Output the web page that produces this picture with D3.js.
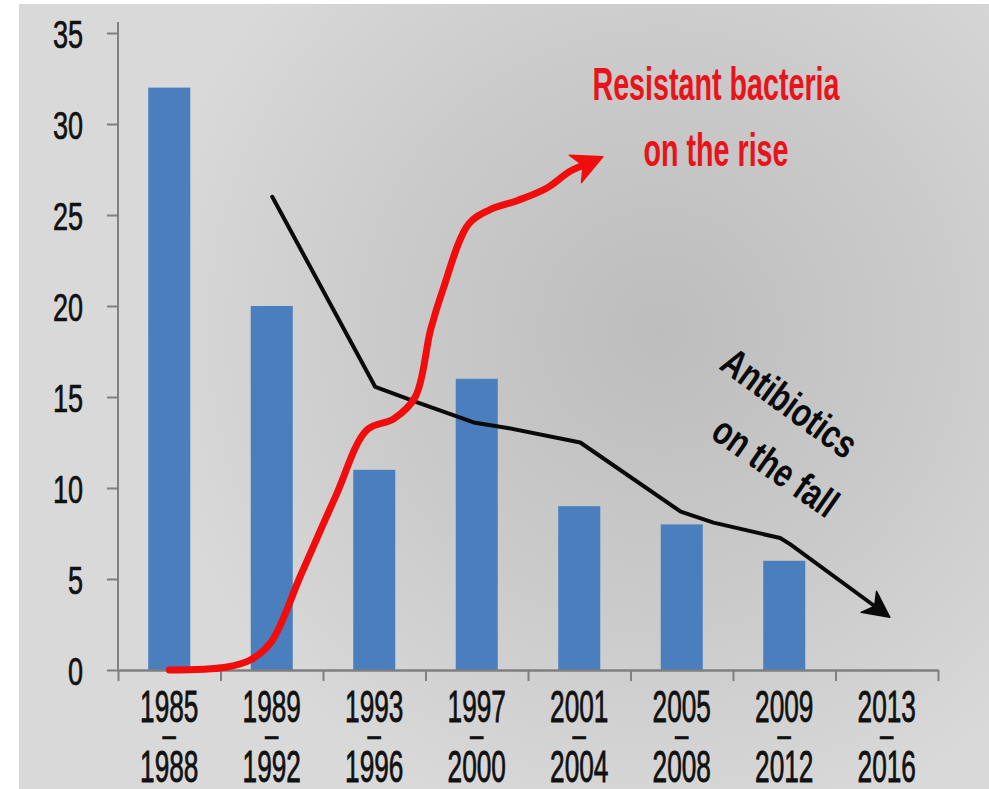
<!DOCTYPE html>
<html>
<head>
<meta charset="utf-8">
<script src="https://cdn.jsdelivr.net/npm/d3@7/dist/d3.min.js"></script>
<style>
  html, body { margin: 0; padding: 0; background: #ffffff; }
  svg { display: block; }
  text { font-family: "Liberation Sans", Arial, sans-serif; }
</style>
</head>
<body>
<script>
// Four-year periods on the x axis
const periodStart = ["1985", "1989", "1993", "1997", "2001", "2005", "2009", "2013"];
const periodEnd   = ["1988", "1992", "1996", "2000", "2004", "2008", "2012", "2016"];
// New antibiotics approved per period (bars)
const approvals = [32, 20, 11, 16, 9, 8, 6, 0];
// Resistant-bacteria trend: position in periods (0 = first period centre) and level
const resistantPos = [0, 0.55, 0.79, 0.99, 1.29, 1.62, 1.93, 2.19, 2.40, 2.55, 2.67, 2.92, 3.13, 3.40, 3.69, 3.91, 4.23];
const resistantVal = [0, 0.15, 0.55, 1.5, 5.3, 9.5, 13.2, 13.8, 15.0, 18.7, 20.9, 24.5, 25.3, 25.8, 26.5, 27.4, 28.2];
// Antibiotic-development trend
const antibioticPos = [1.005, 2.01, 2.42, 2.97, 3.30, 4.01, 4.99, 5.31, 5.96, 6.06, 7.03];
const antibioticVal = [26.0, 15.55, 14.7, 13.6, 13.3, 12.5, 8.7, 8.1, 7.25, 6.9, 2.9];
const yTicks = [0, 5, 10, 15, 20, 25, 30, 35];

const W = 989, H = 789;
const svg = d3.select("body").append("svg").attr("width", W).attr("height", H);

// Background panel with soft radial shading
const defs = svg.append("defs");
const grad = defs.append("radialGradient").attr("id", "bg")
  .attr("gradientUnits", "userSpaceOnUse")
  .attr("cx", 660).attr("cy", 330).attr("r", 520);
grad.append("stop").attr("offset", "0%").attr("stop-color", "#bdbdbd");
grad.append("stop").attr("offset", "55%").attr("stop-color", "#cbcbcb");
grad.append("stop").attr("offset", "100%").attr("stop-color", "#d9d9d9");
svg.append("rect").attr("x", 19).attr("y", 4).attr("width", W - 19).attr("height", H - 4)
  .attr("fill", "url(#bg)");

const left = 118, right = 938, y0px = 670, y35px = 33;
const x = d3.scaleBand().domain(periodStart).range([left, right])
  .paddingInner(0.59).paddingOuter(0.295);
const xEdge = d3.scaleLinear().domain([0, periodStart.length]).range([left, right]);
const xPos = d3.scaleLinear().domain([0, 7])
  .range([x(periodStart[0]) + x.bandwidth() / 2, x(periodStart[7]) + x.bandwidth() / 2]);
const y = d3.scaleLinear().domain([0, 35]).range([y0px, y35px]);

const axisColor = "#7f7f7f";
const ink = "#111111";
const sx = 0.82; // narrow glyph width

// Bars
svg.append("g").selectAll("rect").data(approvals).join("rect")
  .attr("x", (d, i) => x(periodStart[i]))
  .attr("y", d => y(d))
  .attr("width", x.bandwidth())
  .attr("height", d => y(0) - y(d))
  .attr("fill", "#4a7ebd");

// Y axis
const yAxis = svg.append("g").attr("transform", `translate(${left},0)`)
  .call(d3.axisLeft(y).tickValues(yTicks).tickSizeInner(11).tickSizeOuter(0));
yAxis.select(".domain").remove();
yAxis.append("line").attr("x1", 0).attr("x2", 0).attr("y1", y(0)).attr("y2", y(35) - 11)
  .attr("stroke", axisColor).attr("stroke-width", 2);
yAxis.selectAll(".tick line").attr("stroke", axisColor).attr("stroke-width", 2);
yAxis.selectAll(".tick text")
  .attr("font-family", "Liberation Sans, Arial, sans-serif")
  .attr("font-size", 33).attr("fill", ink)
  .attr("stroke", ink).attr("stroke-width", 0.6)
  .attr("x", -35 / sx)
  .attr("dy", "0.36em")
  .attr("transform", `scale(${sx},1.2)`);

// X axis with ticks at period boundaries
const xAxis = svg.append("g").attr("transform", `translate(0,${y0px})`)
  .call(d3.axisBottom(xEdge).tickValues(d3.range(0, periodStart.length + 1))
    .tickFormat("").tickSizeInner(11).tickSizeOuter(0));
xAxis.select(".domain").attr("stroke", axisColor).attr("stroke-width", 2.5);
xAxis.selectAll(".tick line").attr("stroke", axisColor).attr("stroke-width", 2);

// Period labels: start year, dash, end year
const labels = svg.append("g").attr("fill", ink).attr("stroke", ink).attr("stroke-width", 0.6)
  .selectAll("g").data(periodStart).join("g")
  .attr("transform", d => `translate(${x(d) + x.bandwidth() / 2},0)`);
labels.append("text")
  .attr("transform", `translate(0,722) scale(${sx},1.38)`)
  .attr("text-anchor", "middle").attr("font-size", 32)
  .text(d => d);
labels.append("text")
  .attr("transform", "translate(0,747) scale(0.8,1.2)")
  .attr("text-anchor", "middle").attr("font-size", 30)
  .text("–");
labels.append("text")
  .attr("transform", `translate(0,782) scale(${sx},1.38)`)
  .attr("text-anchor", "middle").attr("font-size", 32)
  .text((d, i) => periodEnd[i]);

// Trend line with an arrowhead at its end
function arrowLine(pos, val, color, width, curve, headLen, headHalf) {
  const pts = pos.map((p, i) => [xPos(p), y(val[i])]);
  const tip = pts[pts.length - 1];
  const prev = pts[pts.length - 2];
  const dx = tip[0] - prev[0], dy = tip[1] - prev[1];
  const len = Math.hypot(dx, dy);
  const ux = dx / len, uy = dy / len;
  const nx = -uy, ny = ux;
  const linePts = pts.slice(0, -1).concat([[tip[0] - ux * headLen * 0.6, tip[1] - uy * headLen * 0.6]]);
  svg.append("path")
    .attr("d", d3.line().curve(curve)(linePts))
    .attr("fill", "none").attr("stroke", color).attr("stroke-width", width)
    .attr("stroke-linejoin", "round").attr("stroke-linecap", "round");
  const bx = tip[0] - ux * headLen, by = tip[1] - uy * headLen;
  const notch = headLen * 0.72;
  const head = [
    tip,
    [bx + nx * headHalf, by + ny * headHalf],
    [tip[0] - ux * notch, tip[1] - uy * notch],
    [bx - nx * headHalf, by - ny * headHalf]
  ];
  svg.append("path").attr("d", "M" + head.map(p => p.join(",")).join("L") + "Z")
    .attr("fill", color).attr("stroke", color).attr("stroke-width", 1.5)
    .attr("stroke-linejoin", "round");
}

arrowLine(antibioticPos, antibioticVal, "#0a0a0a", 4, d3.curveLinear, 26, 13);
arrowLine(resistantPos, resistantVal, "#f20d0d", 7, d3.curveCatmullRom.alpha(0.5), 30, 15);

// Annotations
const red = svg.append("g").attr("fill", "#e8131b").attr("font-weight", "bold")
  .attr("font-size", 35).attr("text-anchor", "middle");
red.append("text").attr("transform", `translate(716,100) scale(${sx},1.3)`).text("Resistant bacteria");
red.append("text").attr("transform", `translate(716,166) scale(${sx},1.3)`).text("on the rise");

const blk = svg.append("g").attr("fill", "#0a0a0a").attr("font-weight", "bold").attr("font-size", 37);
blk.append("text").attr("transform", `translate(718,368) rotate(36) scale(${sx},1.08)`).text("Antibiotics");
blk.append("text").attr("transform", `translate(709,437) rotate(35) scale(${sx},1.08)`).text("on the fall");
</script>
</body>
</html>
